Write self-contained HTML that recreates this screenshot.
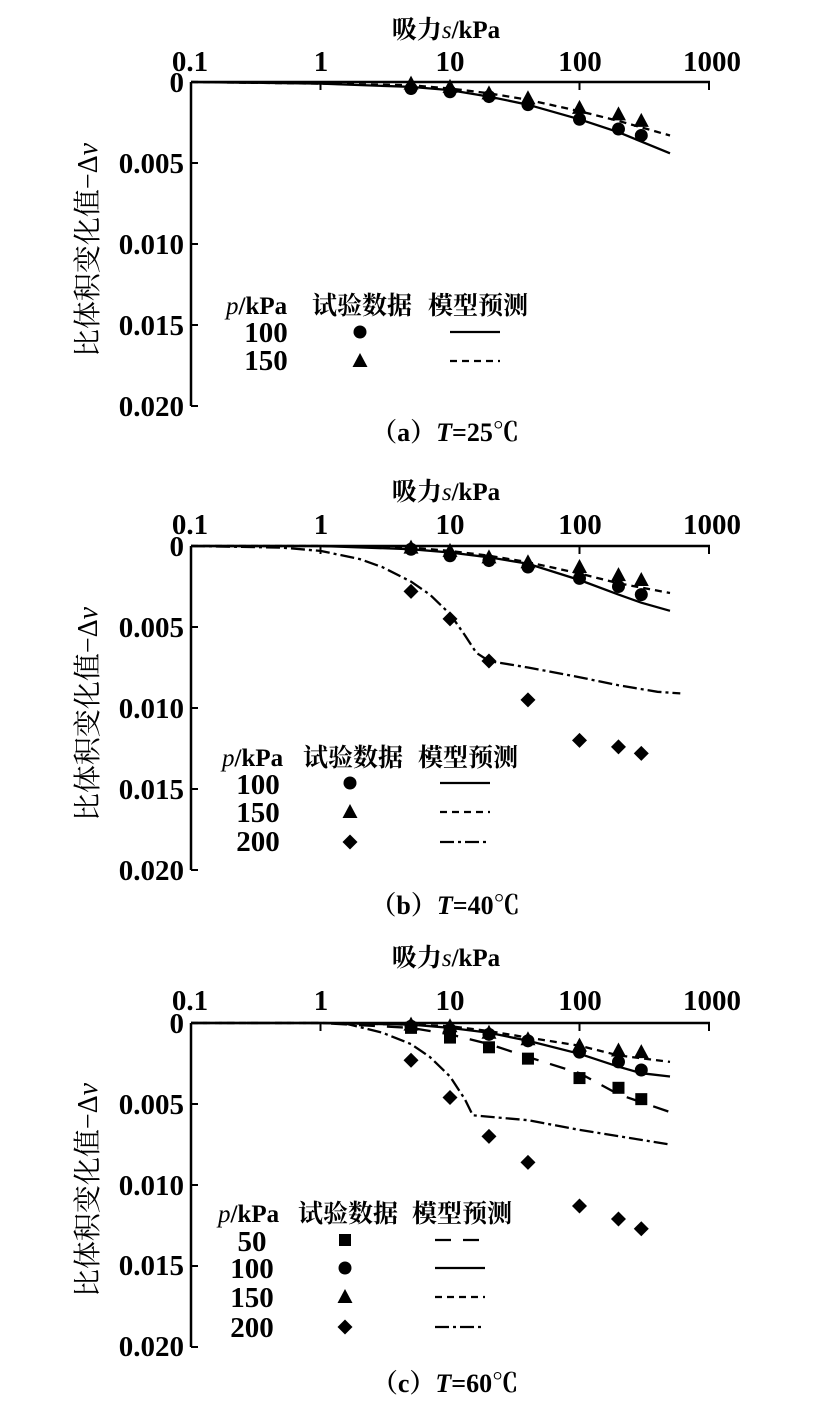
<!DOCTYPE html>
<html><head><meta charset="utf-8"><style>
html,body{margin:0;padding:0;background:#fff;}
svg{display:block;}
text{font-family:"Liberation Serif","Noto Serif CJK SC",serif;fill:#000;}
.t{font-size:29px;font-weight:bold;}
.c{font-family:"Liberation Serif","Noto Serif CJK SC",serif;font-size:25px;font-weight:bold;}
.y{font-family:"Liberation Serif","Noto Serif CJK SC",serif;font-size:28px;}
.cap{font-family:"Liberation Serif","Noto Serif CJK SC",serif;font-size:26px;font-weight:bold;}
</style></head><body>
<svg id="s" width="825" height="1407" viewBox="0 0 825 1407" xmlns="http://www.w3.org/2000/svg">
<text class="c" x="446" y="38" text-anchor="middle" font-size="26">吸力<tspan font-style="italic" font-weight="normal">s</tspan>/kPa</text>
<g class="t" text-anchor="middle"><text x="190" y="71">0.1</text><text x="321" y="71">1</text><text x="450" y="71">10</text><text x="580" y="71">100</text><text x="712" y="71">1000</text></g>
<g class="t" text-anchor="end"><text x="184" y="92">0</text><text x="184" y="173">0.005</text><text x="184" y="254">0.010</text><text x="184" y="335">0.015</text><text x="184" y="416">0.020</text></g>
<text class="y" transform="translate(97,250) rotate(-90)" text-anchor="middle">比体积变化值−Δ<tspan font-style="italic">v</tspan></text>
<text class="c" x="226" y="314"><tspan font-style="italic" font-weight="normal">p</tspan>/kPa</text>
<text class="c" x="312" y="314">试验数据</text><text class="c" x="428" y="314">模型预测</text>
<g class="t" text-anchor="middle" font-size="25"><text x="266" y="342">100</text><text x="266" y="370">150</text></g>
<text class="cap" x="445" y="441" text-anchor="middle">（a）<tspan font-style="italic">T</tspan>=25℃</text>

<text class="c" x="446" y="500" text-anchor="middle" font-size="26">吸力<tspan font-style="italic" font-weight="normal">s</tspan>/kPa</text>
<g class="t" text-anchor="middle"><text x="190" y="534">0.1</text><text x="321" y="534">1</text><text x="450" y="534">10</text><text x="580" y="534">100</text><text x="712" y="534">1000</text></g>
<g class="t" text-anchor="end"><text x="184" y="556">0</text><text x="184" y="637">0.005</text><text x="184" y="718">0.010</text><text x="184" y="799">0.015</text><text x="184" y="880">0.020</text></g>
<text class="y" transform="translate(97,714) rotate(-90)" text-anchor="middle">比体积变化值−Δ<tspan font-style="italic">v</tspan></text>
<text class="c" x="222" y="766"><tspan font-style="italic" font-weight="normal">p</tspan>/kPa</text>
<text class="c" x="303" y="766">试验数据</text><text class="c" x="418" y="766">模型预测</text>
<g class="t" text-anchor="middle" font-size="25"><text x="258" y="794">100</text><text x="258" y="822">150</text><text x="258" y="851">200</text></g>
<text class="cap" x="445" y="914" text-anchor="middle">（b）<tspan font-style="italic">T</tspan>=40℃</text>

<text class="c" x="446" y="966" text-anchor="middle" font-size="26">吸力<tspan font-style="italic" font-weight="normal">s</tspan>/kPa</text>
<g class="t" text-anchor="middle"><text x="190" y="1010">0.1</text><text x="321" y="1010">1</text><text x="450" y="1010">10</text><text x="580" y="1010">100</text><text x="712" y="1010">1000</text></g>
<g class="t" text-anchor="end"><text x="184" y="1033">0</text><text x="184" y="1114">0.005</text><text x="184" y="1195">0.010</text><text x="184" y="1275">0.015</text><text x="184" y="1356">0.020</text></g>
<text class="y" transform="translate(97,1190) rotate(-90)" text-anchor="middle">比体积变化值−Δ<tspan font-style="italic">v</tspan></text>
<text class="c" x="218" y="1222"><tspan font-style="italic" font-weight="normal">p</tspan>/kPa</text>
<text class="c" x="298" y="1222">试验数据</text><text class="c" x="412" y="1222">模型预测</text>
<g class="t" text-anchor="middle" font-size="25"><text x="252" y="1251">50</text><text x="252" y="1278">100</text><text x="252" y="1307">150</text><text x="252" y="1337">200</text></g>
<text class="cap" x="445" y="1392" text-anchor="middle">（c）<tspan font-style="italic">T</tspan>=60℃</text>
<g id="g"></g>
</svg>
<script>
var NS="http://www.w3.org/2000/svg",G=document.getElementById("g");
function el(n,a){var e=document.createElementNS(NS,n);for(var k in a)e.setAttribute(k,a[k]);G.appendChild(e);return e;}
var X0=191,DEC=129.5;
function X(s){return X0+DEC*Math.log10(s/0.1);}
var dashes={solid:"",dash:"7,5",long:"16,12",dd:"14,4,3,4"};
function marker(t,x,y){
 if(t=="c")el("circle",{cx:x,cy:y,r:6.5,fill:"#000"});
 else if(t=="t")el("polygon",{points:(x)+","+(y-8)+" "+(x-7.5)+","+(y+6)+" "+(x+7.5)+","+(y+6),fill:"#000"});
 else if(t=="s")el("rect",{x:x-6,y:y-6,width:12,height:12,fill:"#000"});
 else if(t=="d")el("polygon",{points:x+","+(y-7.5)+" "+(x+7.5)+","+y+" "+x+","+(y+7.5)+" "+(x-7.5)+","+y,fill:"#000"});
}
function panel(Y0,curves,pts,leg){
 var k=324/0.02,Yv=function(v){return Y0+k*v;};
 el("line",{x1:X0,y1:Y0,x2:710,y2:Y0,stroke:"#000","stroke-width":2.5});
 el("line",{x1:X0,y1:Y0,x2:X0,y2:Y0+324,stroke:"#000","stroke-width":2.5});
 for(var i=1;i<=4;i++){var x=X0+DEC*i;el("line",{x1:x,y1:Y0,x2:x,y2:Y0+8,stroke:"#000","stroke-width":2});}
 for(var i=1;i<=4;i++){var y=Y0+81*i;el("line",{x1:X0,y1:y,x2:X0+7,y2:y,stroke:"#000","stroke-width":2});}
 curves.forEach(function(c){
  var d=c.p.map(function(p,i){return (i?"L":"M")+X(p[0]).toFixed(1)+","+Yv(p[1]).toFixed(1);}).join("");
  el("path",{d:d,fill:"none",stroke:"#000","stroke-width":2.3,"stroke-dasharray":dashes[c.s]});
 });
 pts.forEach(function(p){var s=[5,10,20,40,100,200,300];p.v.forEach(function(v,i){if(v!=null)marker(p.m,X(s[i]),Yv(v));});});
 leg.forEach(function(l){marker(l.m,l.mx,l.y);el("line",{x1:l.lx,y1:l.y,x2:l.lx+50,y2:l.y,stroke:"#000","stroke-width":2.3,"stroke-dasharray":dashes[l.s]});});
}
panel(82,[
 {s:"solid",p:[[0.1,0],[1,0.0001],[5,0.0003],[10,0.0005],[20,0.0009],[40,0.0014],[100,0.0023],[200,0.0031],[500,0.0044]]},
 {s:"dash",p:[[0.1,0],[1,0.0001],[5,0.0002],[10,0.0004],[20,0.0007],[40,0.0011],[100,0.0018],[200,0.0024],[500,0.0033]]}
],[
 {m:"t",v:[0.0001,0.0003,0.0007,0.0010,0.0016,0.0020,0.0024]},
 {m:"c",v:[0.0004,0.0006,0.0009,0.0014,0.0023,0.0029,0.0033]}
],[{m:"c",mx:360,y:332,lx:450,s:"solid"},{m:"t",mx:360,y:361,lx:450,s:"dash"}]);
panel(546,[
 {s:"solid",p:[[0.1,0],[1,0],[5,0.0002],[10,0.0004],[20,0.0007],[40,0.0011],[100,0.0021],[200,0.003],[300,0.0035],[500,0.004]]},
 {s:"dash",p:[[0.1,0],[1,0],[5,0.0001],[10,0.0003],[20,0.0006],[40,0.0010],[100,0.0017],[200,0.0023],[500,0.0029]]},
 {s:"dd",p:[[0.1,0],[0.5,0.0001],[1,0.0003],[2,0.0008],[3,0.0013],[5,0.0022],[7,0.003],[10,0.0042],[13,0.0055],[16,0.0066],[20,0.0071],[40,0.0075],[100,0.0081],[200,0.0086],[400,0.009],[600,0.0091]]}
],[
 {m:"t",v:[0.0001,0.0003,0.0007,0.0010,0.0013,0.0018,0.0021]},
 {m:"c",v:[0.0002,0.0006,0.0009,0.0013,0.0020,0.0025,0.0030]},
 {m:"d",v:[0.0028,0.0045,0.0071,0.0095,0.0120,0.0124,0.0128]}
],[{m:"c",mx:350,y:783,lx:440,s:"solid"},{m:"t",mx:350,y:812,lx:440,s:"dash"},{m:"d",mx:350,y:842,lx:440,s:"dd"}]);
panel(1023,[
 {s:"long",p:[[0.1,0],[1,0],[5,0.0003],[10,0.0007],[20,0.0013],[40,0.0021],[100,0.0031],[200,0.0044],[500,0.0055]]},
 {s:"solid",p:[[0.1,0],[1,0],[5,0.0001],[10,0.0003],[20,0.0006],[40,0.0011],[100,0.0019],[200,0.0027],[300,0.0031],[500,0.0033]]},
 {s:"dash",p:[[0.1,0],[1,0],[5,0.0001],[10,0.0002],[20,0.0005],[40,0.0009],[100,0.0014],[200,0.002],[500,0.0024]]},
 {s:"dd",p:[[1.5,0],[3,0.0006],[5,0.0013],[7,0.0021],[10,0.0033],[13,0.0047],[15,0.0057],[40,0.006],[100,0.0066],[500,0.0075]]}
],[
 {m:"s",v:[0.0003,0.0009,0.0015,0.0022,0.0034,0.0040,0.0047]},
 {m:"t",v:[0.0001,0.0002,0.0006,0.0010,0.0014,0.0017,0.0018]},
 {m:"c",v:[0.0002,0.0004,0.0007,0.0011,0.0018,0.0024,0.0029]},
 {m:"d",v:[0.0023,0.0046,0.0070,0.0086,0.0113,0.0121,0.0127]}
],[{m:"s",mx:345,y:1240,lx:435,s:"long"},{m:"c",mx:345,y:1268,lx:435,s:"solid"},{m:"t",mx:345,y:1297,lx:435,s:"dash"},{m:"d",mx:345,y:1327,lx:435,s:"dd"}]);
</script>
</body></html>
